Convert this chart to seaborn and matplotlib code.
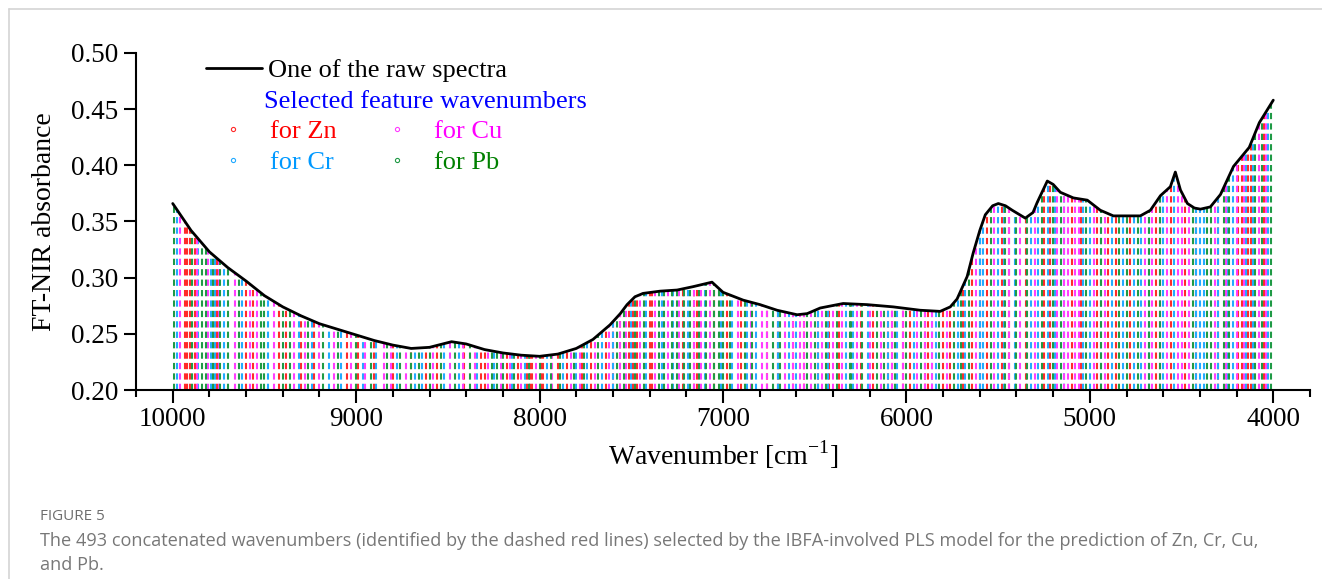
import numpy as np
import pandas as pd
import matplotlib
matplotlib.use('Agg')
import matplotlib.pyplot as plt
from matplotlib.lines import Line2D
from matplotlib.ticker import MultipleLocator
import seaborn as sns

# raw spectrum
wavenumber = [10000, 9900, 9800, 9700, 9600, 9500, 9400, 9300, 9200, 9100, 9000,
              8900, 8800, 8700, 8600, 8480, 8400, 8300, 8200, 8100, 8000, 7900,
              7800, 7709, 7616, 7560, 7523, 7480, 7436, 7343, 7250, 7163, 7060, 7000, 6890,
              6798, 6705, 6596, 6541, 6470, 6345, 6214, 6072, 5925, 5816, 5761,
              5724, 5669, 5636, 5600, 5570, 5530, 5499, 5460, 5423, 5352, 5310, 5287, 5232,
              5200, 5161, 5090, 5014, 4943, 4872, 4725, 4670, 4615, 4561, 4534, 4506,
              4468, 4430, 4397, 4343, 4288, 4217, 4131, 4076, 4000]
absorbance = [0.366, 0.342, 0.323, 0.309, 0.297, 0.284, 0.274, 0.266, 0.259, 0.254, 0.249,
              0.244, 0.240, 0.237, 0.238, 0.243, 0.241, 0.236, 0.233, 0.231, 0.230, 0.232,
              0.237, 0.245, 0.258, 0.268, 0.276, 0.283, 0.286, 0.288, 0.289, 0.292, 0.296,
              0.287, 0.280,
              0.276, 0.271, 0.267, 0.268, 0.273, 0.277, 0.276, 0.274, 0.271, 0.270, 0.274,
              0.281, 0.301, 0.322, 0.342, 0.356, 0.364, 0.366, 0.364, 0.360, 0.353, 0.358,
              0.367, 0.386, 0.383, 0.376, 0.371,
              0.369, 0.360, 0.355, 0.355, 0.360, 0.373, 0.381, 0.394, 0.378, 0.366, 0.362,
              0.361, 0.363, 0.374, 0.399, 0.416, 0.438, 0.458]

# selected feature wavenumbers per element
zn_wn = [9935, 9920, 9905, 9880, 9760, 9600, 9560, 9420, 9380, 9300, 9230, 9050, 8990,
         8900, 8800, 8700, 8620, 8560, 8410, 8320, 8300, 8180, 8120, 8070, 8050, 8040,
         7990, 7980, 7900, 7850, 7770, 7720, 7640, 7600, 7560, 7510, 7490, 7470, 7400,
         7385, 7220, 7160, 7140, 7050, 6980, 6900, 6760, 6700, 6620, 6560, 6480, 6420,
         6370, 6250, 6180, 6100, 6080, 6020, 5980, 5900, 5880, 5800, 5760, 5690, 5640,
         5600, 5560, 5480, 5440, 5350, 5250, 5220, 5100, 5050, 4960, 4900, 4860, 4780,
         4640, 4560, 4480, 4420, 4300, 4190, 4170, 4140, 4120, 4050]
cr_wn = [9975, 9860, 9790, 9770, 9720, 9620, 9480, 9310, 9240, 9150, 9080, 8960, 8890,
         8780, 8680, 8640, 8520, 8440, 8340, 8250, 8150, 8080, 7960, 7870, 7800, 7740,
         7660, 7600, 7500, 7420, 7330, 7270, 7190, 7100, 7010, 6950, 6870, 6820, 6700,
         6640, 6600, 6480, 6430, 6330, 6290, 6210, 6100, 6050, 5960, 5860, 5840, 5720,
         5680, 5600, 5580, 5500, 5470, 5410, 5320, 5280, 5230, 5190, 5140, 5040, 5000,
         4940, 4880, 4820, 4760, 4720, 4680, 4600, 4540, 4420, 4400, 4380, 4300, 4250,
         4220, 4150, 4110, 4030]
cu_wn = [9960, 9870, 9810, 9750, 9660, 9580, 9540, 9450, 9340, 9280, 9200, 9120, 9030,
         8950, 8850, 8810, 8730, 8580, 8490, 8420, 8350, 8280, 8210, 8160, 8100, 8020,
         7930, 7830, 7780, 7700, 7620, 7560, 7530, 7450, 7370, 7300, 7240, 7160, 7120,
         7070, 6920, 6850, 6790, 6760, 6660, 6620, 6580, 6560, 6520, 6460, 6400, 6350,
         6270, 6200, 6140, 6080, 6020, 5940, 5900, 5860, 5780, 5620, 5520, 5440, 5380,
         5300, 5180, 5140, 5120, 5080, 5060, 4980, 4920, 4700, 4660, 4620, 4580, 4520,
         4500, 4460, 4320, 4260, 4200, 4160, 4080, 4040]
pb_wn = [9995, 9895, 9840, 9820, 9780, 9740, 9700, 9640, 9520, 9500, 9400, 9360, 9260,
         9180, 9100, 9000, 8920, 8830, 8760, 8700, 8660, 8600, 8540, 8460, 8380, 8260,
         8230, 8200, 8140, 8060, 8000, 7940, 7890, 7810, 7760, 7680, 7580, 7540, 7480,
         7430, 7350, 7320, 7280, 7250, 7210, 7180, 7130, 7090, 7050, 7020, 7000, 6960,
         6880, 6840, 6730, 6690, 6540, 6500, 6440, 6380, 6310, 6300, 6240, 6160, 6120,
         6060, 6000, 5920, 5820, 5740, 5700, 5660, 5540, 5460, 5400, 5340, 5260, 5200,
         5160, 5020, 4940, 4840, 4800, 4740, 4680, 4620, 4440, 4360, 4340, 4270, 4240,
         4100, 4060, 4010]

elements = ['Zn', 'Cr', 'Cu', 'Pb']
line_colors = ['#ff2a2a', '#22aaff', '#ff3cff', '#1f9a45']
text_colors = ['#ff0000', '#0099ff', '#ff00ff', '#008000']

sns.set_theme(style='ticks', rc={'axes.edgecolor': 'black', 'xtick.color': 'black',
                                 'ytick.color': 'black', 'text.color': 'black',
                                 'axes.labelcolor': 'black'})
plt.rcParams['font.family'] = ['Liberation Serif', 'DejaVu Serif']

spec = pd.DataFrame({'wavenumber': wavenumber, 'absorbance': absorbance})

fig = plt.figure(figsize=(13.22, 5.79), dpi=100)
ax = fig.add_axes([0.1029, 0.3264, 0.8880, 0.5821])

# area under the spectrum, used to clip the dashed lines
under = ax.fill_between(spec['wavenumber'], 0.2, spec['absorbance'],
                        facecolor='none', edgecolor='none')
clip = under.get_paths()[0]

for pos, c in zip([zn_wn, cr_wn, cu_wn, pb_wn], line_colors):
    lc = ax.vlines(pos, 0.2, 0.5, colors=c, linestyles=(0, (3, 2)), lw=1.5)
    lc.set_clip_path(clip, ax.transData)

sns.lineplot(data=spec, x='wavenumber', y='absorbance', color='black', lw=2,
             ax=ax, zorder=5, legend=False)

ax.set_xlim(10200, 3800)
ax.set_ylim(0.2, 0.5)
ax.set_xticks([10000, 9000, 8000, 7000, 6000, 5000, 4000])
ax.xaxis.set_minor_locator(MultipleLocator(200))
ax.set_yticks(np.arange(0.2, 0.501, 0.05))
ax.set_yticklabels([f'{v:.2f}' for v in np.arange(0.2, 0.501, 0.05)])
ax.tick_params(which='major', length=9, width=1.5, labelsize=19.5, direction='out')
ax.tick_params(which='minor', length=5, width=1.5, direction='out')
for s in ['left', 'bottom']:
    ax.spines[s].set_linewidth(1.5)
sns.despine(ax=ax)

ax.set_xlabel(r'Wavenumber [cm$^{\mathregular{-1}}$]', fontsize=20, labelpad=4)
ax.set_ylabel('FT-NIR absorbance', fontsize=20, labelpad=10)

# legend
leg1 = ax.legend(handles=[Line2D([], [], color='black', lw=2)],
                 labels=['One of the raw spectra'], loc='upper left',
                 bbox_to_anchor=(0.1558, 0.899), bbox_transform=fig.transFigure,
                 frameon=False, fontsize=19, handlelength=2.12, handletextpad=0.23,
                 borderpad=0, borderaxespad=0)
ax.add_artist(leg1)
fig.text(264 / 1322, 1 - 102 / 579, 'Selected feature wavenumbers', color='#0000ff',
         fontsize=19, va='center')
handles = [Line2D([], [], marker='o', ls='none', mfc='none', mec=c, ms=3, mew=0.8)
           for c in line_colors]
ax.legend(handles=handles, labels=[f'for {e}' for e in elements], ncol=2,
          labelcolor=text_colors, loc='upper left',
          bbox_to_anchor=(0.1611, 0.7933), bbox_transform=fig.transFigure,
          frameon=False, fontsize=19, handlelength=1.5, handletextpad=0.65,
          columnspacing=1.55, labelspacing=0.28, borderpad=0, borderaxespad=0)

# page frame and caption
fig.add_artist(Line2D([9 / 1322, 1], [1 - 9 / 579] * 2, transform=fig.transFigure,
                      color='#d4d4d4', lw=1.2))
fig.add_artist(Line2D([9 / 1322] * 2, [0, 1 - 9 / 579], transform=fig.transFigure,
                      color='#d4d4d4', lw=1.2))
fig.text(40 / 1322, 1 - 517 / 579, 'FIGURE 5', fontsize=11, color='#6e6e6e',
         family='Open Sans', va='center')
fig.text(40 / 1322, 1 - 541 / 579,
         'The 493 concatenated wavenumbers (identified by the dashed red lines) selected '
         'by the IBFA-involved PLS model for the prediction of Zn, Cr, Cu,',
         fontsize=13.1, color='#777777', family='Open Sans', va='center')
fig.text(40 / 1322, 1 - 565 / 579, 'and Pb.', fontsize=13.1, color='#777777',
         family='Open Sans', va='center')

fig.savefig('out.png', dpi=100)
